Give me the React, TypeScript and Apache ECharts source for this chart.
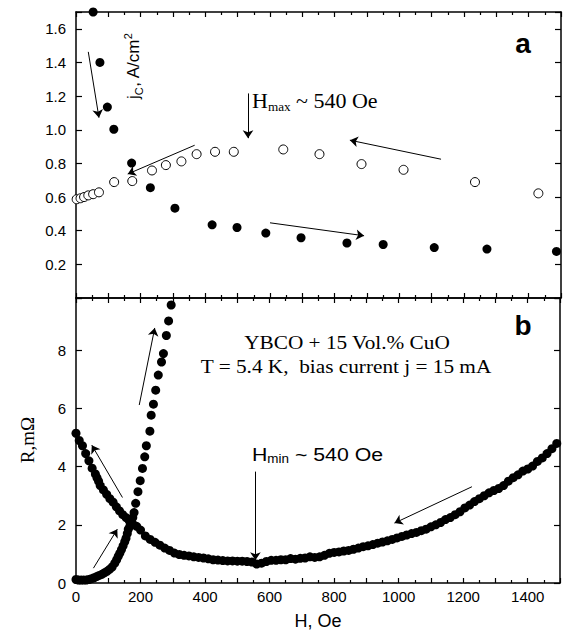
import React, { useEffect, useRef } from "react";
import * as echarts from "echarts";

// Panel a: critical current density jc (A/cm^2) vs H (Oe)
const H_JC_FILLED = [53, 74, 97, 117, 172, 230, 306, 421, 498, 587, 696, 838, 950, 1108, 1271, 1486];
const JC_FILLED = [1.7, 1.4, 1.135, 1.003, 0.802, 0.656, 0.534, 0.435, 0.419, 0.386, 0.358, 0.327, 0.318, 0.3, 0.291, 0.277];
const H_JC_OPEN = [2, 14, 25, 38, 53, 71, 118, 174, 235, 278, 326, 373, 430, 488, 641, 753, 883, 1013, 1234, 1430];
const JC_OPEN = [0.587, 0.593, 0.6, 0.61, 0.617, 0.628, 0.689, 0.695, 0.758, 0.79, 0.812, 0.855, 0.869, 0.869, 0.883, 0.855, 0.796, 0.762, 0.689, 0.622];

// Panel b: resistance R (mOhm) vs H (Oe)
const H_R_UP = [0, 8, 16, 24, 32, 40, 48, 56, 64, 72, 80, 88, 96, 104, 112, 120, 126, 131, 136, 141, 146, 151, 155, 159, 162, 167, 172, 176, 180, 185, 192, 199, 206, 213, 218, 229, 233, 240, 247, 255, 265, 271, 280, 287, 295];
const R_UP = [0.12, 0.1, 0.1, 0.1, 0.1, 0.12, 0.15, 0.18, 0.22, 0.26, 0.3, 0.35, 0.4, 0.47, 0.55, 0.68, 0.8, 0.92, 1.03, 1.15, 1.28, 1.42, 1.54, 1.7, 1.85, 1.95, 2.06, 2.25, 2.42, 2.74, 3.14, 3.52, 3.94, 4.34, 4.72, 5.22, 5.77, 6.15, 6.63, 7.15, 7.6, 7.89, 8.51, 9.01, 9.56];
const H_R_DOWN = [1490, 1475, 1460, 1445, 1430, 1415, 1400, 1385, 1370, 1355, 1340, 1325, 1310, 1295, 1280, 1265, 1250, 1235, 1220, 1205, 1190, 1175, 1160, 1145, 1130, 1115, 1100, 1085, 1070, 1055, 1040, 1025, 1010, 995, 980, 965, 950, 935, 920, 905, 890, 875, 860, 845, 830, 815, 800, 785, 770, 755, 740, 725, 710, 695, 680, 665, 650, 635, 620, 605, 590, 575, 560, 545, 530, 515, 500, 485, 470, 455, 440, 425, 410, 395, 380, 365, 350, 335, 320, 305, 290, 275, 260, 245, 230, 215, 200, 188, 175, 165, 155, 145, 135, 125, 115, 105, 95, 85, 75, 70, 65, 60, 50, 40, 30, 20, 10, 0];
const R_DOWN = [4.8, 4.62, 4.45, 4.3, 4.18, 4.02, 3.92, 3.85, 3.72, 3.62, 3.5, 3.35, 3.25, 3.18, 3.1, 3.0, 2.9, 2.8, 2.68, 2.58, 2.45, 2.35, 2.25, 2.18, 2.08, 2.0, 1.93, 1.85, 1.8, 1.74, 1.7, 1.65, 1.6, 1.55, 1.5, 1.45, 1.41, 1.37, 1.32, 1.28, 1.25, 1.2, 1.16, 1.12, 1.1, 1.07, 1.05, 1.02, 0.95, 0.9, 0.88, 0.9, 0.86, 0.85, 0.82, 0.84, 0.8, 0.8, 0.78, 0.78, 0.74, 0.68, 0.65, 0.72, 0.74, 0.75, 0.75, 0.76, 0.76, 0.77, 0.79, 0.8, 0.83, 0.86, 0.88, 0.9, 0.93, 0.95, 0.98, 1.03, 1.12, 1.2, 1.3, 1.4, 1.5, 1.62, 1.82, 1.95, 2.05, 2.14, 2.25, 2.35, 2.48, 2.62, 2.78, 2.9, 3.05, 3.2, 3.35, 3.5, 3.62, 3.75, 3.95, 4.2, 4.45, 4.72, 4.9, 5.15];

// Arrows [x1, y1, x2, y2] in data units (head at second point)
const ARROWS_A = [
  [38, 1.463, 71, 1.072],
  [367, 0.908, 160, 0.737],
  [1129, 0.825, 847, 0.938],
  [600, 0.447, 891, 0.37],
  [532, 1.216, 532, 0.95],
];
const ARROWS_B = [
  [196, 6.12, 244, 8.77],
  [144, 2.94, 49, 4.74],
  [54, 0.51, 128, 1.85],
  [1227, 3.31, 987, 2.06],
  [556, 3.83, 556, 0.78],
];

const SANS = "'Liberation Sans', Arial, sans-serif";
const SERIF = "'Liberation Serif', 'Times New Roman', serif";

const zip = (xs: number[], ys: number[]) => xs.map((x, i) => [x, ys[i]]);
const arrowData = (arr: number[][]) =>
  arr.map((a) => [{ coord: [a[0], a[1]] }, { coord: [a[2], a[3]] }]);

const axisLine = { show: true, onZero: false, lineStyle: { color: "#000", width: 1.5 } };

function xAx(grid: number, pos: string, labels: boolean) {
  return {
    type: "value",
    gridIndex: grid,
    position: pos,
    min: 0,
    max: 1500,
    interval: 100,
    axisLine,
    axisTick: { show: true, inside: true, length: 5, lineStyle: { color: "#000", width: 1.2 } },
    minorTick: { show: true, splitNumber: 2, length: 3, lineStyle: { color: "#000", width: 1.2 } },
    splitLine: { show: false },
    axisLabel: labels
      ? {
          show: true,
          color: "#000",
          fontSize: 15,
          fontFamily: SANS,
          margin: 6,
          formatter: (v: number) => (Math.round(v) % 200 === 0 ? String(Math.round(v)) : ""),
        }
      : { show: false },
  };
}

function yAx(grid: number, pos: string, max: number, interval: number, fmt: any) {
  return {
    type: "value",
    gridIndex: grid,
    position: pos,
    min: 0,
    max,
    interval,
    axisLine,
    axisTick: { show: true, inside: true, length: 6, lineStyle: { color: "#000", width: 1.2 } },
    splitLine: { show: false },
    axisLabel: fmt
      ? { show: true, color: "#000", fontSize: 15, fontFamily: SANS, margin: 10, formatter: fmt }
      : { show: false },
  };
}

export default function App() {
  const ref = useRef<HTMLDivElement>(null);
  useEffect(() => {
    if (!ref.current) return;
    const chart = echarts.init(ref.current, null, { renderer: "svg" });
    const markLine = (arr: number[][]) => ({
      silent: true,
      symbol: ["none", "arrow"],
      symbolSize: 8,
      label: { show: false },
      lineStyle: { color: "#000", width: 1, type: "solid", opacity: 1 },
      itemStyle: { color: "#000", opacity: 1 },
      emphasis: { disabled: true },
      data: arrowData(arr),
    });
    const filled = { color: "#000", opacity: 1 };
    const option = {
      animation: false,
      backgroundColor: "#fff",
      grid: [
        { left: 76, top: 12, width: 485, height: 286 },
        { left: 76, top: 298, width: 485, height: 285 },
      ],
      xAxis: [xAx(0, "bottom", false), xAx(0, "top", false), xAx(1, "top", false), xAx(1, "bottom", true)],
      yAxis: [
        yAx(0, "left", 1.7, 0.2, (v: number) => (v > 0.05 && v < 1.65 ? v.toFixed(1) : "")),
        yAx(0, "right", 1.7, 0.2, null),
        yAx(1, "left", 9.8, 2, (v: number) => (Math.abs(v % 2) < 1e-6 ? String(v) : "")),
        yAx(1, "right", 9.8, 2, null),
      ],
      series: [
        {
          type: "scatter",
          xAxisIndex: 0,
          yAxisIndex: 0,
          clip: false,
          symbol: "circle",
          symbolSize: 9,
          itemStyle: { color: "#fff", borderColor: "#000", borderWidth: 1, opacity: 1 },
          data: zip(H_JC_OPEN, JC_OPEN),
          markLine: markLine(ARROWS_A),
        },
        {
          type: "scatter",
          xAxisIndex: 0,
          yAxisIndex: 0,
          clip: false,
          symbol: "circle",
          symbolSize: 9,
          itemStyle: filled,
          data: zip(H_JC_FILLED, JC_FILLED),
        },
        {
          type: "scatter",
          xAxisIndex: 3,
          yAxisIndex: 2,
          clip: false,
          symbol: "circle",
          symbolSize: 9,
          itemStyle: filled,
          data: zip(H_R_UP, R_UP),
          markLine: markLine(ARROWS_B),
        },
        {
          type: "scatter",
          xAxisIndex: 3,
          yAxisIndex: 2,
          clip: false,
          symbol: "circle",
          symbolSize: 9,
          itemStyle: filled,
          data: zip(H_R_DOWN, R_DOWN),
        },
      ],
      graphic: [
        {
          type: "text",
          x: 523,
          y: 43,
          style: { text: "a", font: `bold 28px ${SANS}`, fill: "#000", align: "center", verticalAlign: "middle" },
        },
        {
          type: "text",
          x: 523,
          y: 325,
          style: { text: "b", font: `bold 28px ${SANS}`, fill: "#000", align: "center", verticalAlign: "middle" },
        },
        {
          type: "text",
          x: 133,
          y: 66,
          rotation: Math.PI / 2,
          style: {
            text: "{n|j}{s|C}{n|, A/cm}{p|2}",
            align: "center",
            verticalAlign: "middle",
            fill: "#000",
            rich: {
              n: { fontFamily: SANS, fontSize: 17, lineHeight: 22, fill: "#000" },
              s: { fontFamily: SANS, fontSize: 11, lineHeight: 11, verticalAlign: "bottom", fill: "#000" },
              p: { fontFamily: SANS, fontSize: 11, lineHeight: 11, verticalAlign: "top", fill: "#000" },
            },
          },
        },
        {
          type: "text",
          x: 252,
          y: 101,
          scaleX: 1.1,
          style: {
            text: "{h|H}{s|max}{h| ~ 540 Oe}",
            align: "left",
            verticalAlign: "middle",
            fill: "#000",
            rich: {
              h: { fontFamily: SERIF, fontSize: 20, lineHeight: 24, fill: "#000" },
              s: { fontFamily: SERIF, fontSize: 12, lineHeight: 12, verticalAlign: "bottom", fill: "#000" },
            },
          },
        },
        {
          type: "text",
          x: 252,
          y: 454,
          scaleX: 1.12,
          style: {
            text: "{h|H}{s|min}{h| ~ 540 Oe}",
            align: "left",
            verticalAlign: "middle",
            fill: "#000",
            rich: {
              h: { fontFamily: SANS, fontSize: 19, lineHeight: 22, fill: "#000" },
              s: { fontFamily: SANS, fontSize: 12, lineHeight: 12, verticalAlign: "bottom", fill: "#000" },
            },
          },
        },
        {
          type: "text",
          x: 347,
          y: 342,
          scaleX: 1.12,
          style: { text: "YBCO + 15 Vol.% CuO", font: `19px ${SERIF}`, fill: "#000", align: "center", verticalAlign: "middle" },
        },
        {
          type: "text",
          x: 346,
          y: 366,
          scaleX: 1.12,
          style: {
            text: "T = 5.4 K,  bias current j = 15 mA",
            font: `19px ${SERIF}`,
            fill: "#000",
            align: "center",
            verticalAlign: "middle",
          },
        },
        {
          type: "text",
          x: 318,
          y: 621,
          style: { text: "H, Oe", font: `18px ${SANS}`, fill: "#000", align: "center", verticalAlign: "middle" },
        },
        {
          type: "text",
          x: 27,
          y: 440,
          rotation: Math.PI / 2,
          style: { text: "R,mΩ", font: `19px ${SERIF}`, fill: "#000", align: "center", verticalAlign: "middle" },
        },
      ],
    };
    chart.setOption(option as any);
    return () => chart.dispose();
  }, []);
  return <div ref={ref} style={{ position: "absolute", left: 0, top: 0, width: 563, height: 634 }} />;
}
